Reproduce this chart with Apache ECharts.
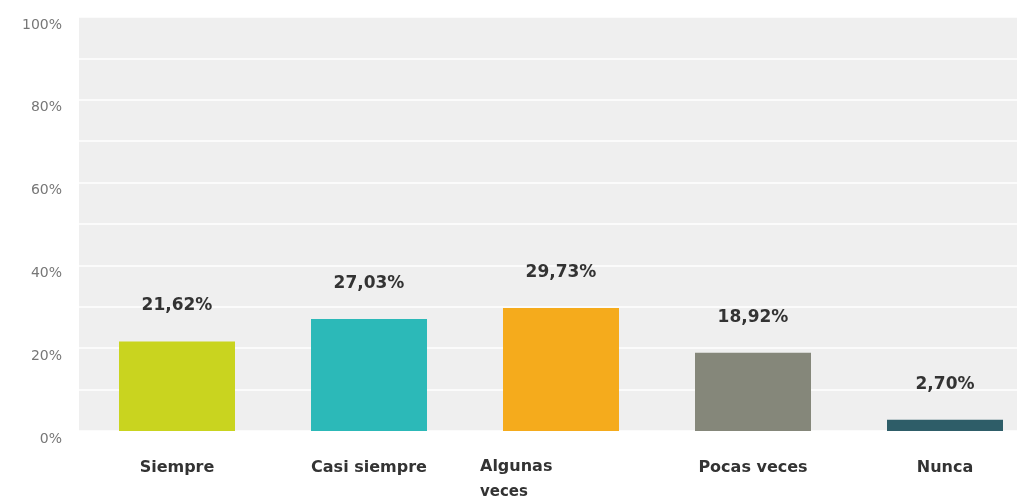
<!DOCTYPE html>
<html>
<head>
<meta charset="utf-8">
<script src="https://cdn.jsdelivr.net/npm/echarts@6/dist/echarts.min.js"></script>
<style>
    html, body { margin: 0; padding: 0; background: #fff; }
    #chart { width: 1028px; height: 496px; }
</style>
</head>
<body>
<div id="chart"></div>
<script>
    var categories = ['Siempre', 'Casi siempre', 'Algunas veces', 'Pocas veces', 'Nunca']
    var values = [21.62, 27.03, 29.73, 18.92, 2.70]
    var barColors = ['#c9d41f', '#2cb9b8', '#f5ab1c', '#85877a', '#2e5d68']
    var yTicks = [0, 20, 40, 60, 80, 100]

    var chart = echarts.init(document.getElementById('chart'))

    chart.setOption({
        animation: false,
        textStyle: { fontFamily: 'DejaVu Sans' },
        grid: [
            // background + y axis
            { left: 79, right: 11, top: 17, bottom: 65, show: true, backgroundColor: '#efefef', borderWidth: 0, outerBoundsMode: 'none' },
            // bars (a bit wider than the grey area, like the original)
            { left: 81, width: 960, top: 17, bottom: 65, outerBoundsMode: 'none' }
        ],
        xAxis: [
            { gridIndex: 0, type: 'category', data: categories, show: false },
            {
                gridIndex: 1,
                type: 'category',
                data: categories,
                axisLine: { show: false },
                axisTick: { show: false },
                axisLabel: {
                    margin: 29,
                    color: '#333',
                    fontSize: 16,
                    fontWeight: 'bold',
                    formatter: function (v) {
                        if (v === 'Algunas veces') {
                            return '{a|Algunas}\n{b|veces}'
                        }
                        return v
                    },
                    rich: {
                        a: { fontSize: 16, fontWeight: 'bold', color: '#333', align: 'left', padding: [0, 0, 0, -81], lineHeight: 14 },
                        b: { fontSize: 15, fontWeight: 'bold', color: '#333', align: 'left', padding: [0, 0, 0, -81], lineHeight: 36 }
                    }
                }
            }
        ],
        yAxis: [
            {
                gridIndex: 0,
                type: 'value',
                min: 0,
                max: 100,
                interval: 20,
                axisLine: { show: false },
                axisTick: { show: false },
                axisLabel: {
                    margin: 17,
                    color: '#777',
                    fontSize: 14,
                    verticalAlign: 'top',
                    padding: [1, 0, 0, 0],
                    formatter: function (v) {
                        return yTicks.indexOf(v) >= 0 ? v + '%' : ''
                    }
                },
                splitLine: { lineStyle: { color: '#ffffff', width: 1.5 } },
                minorTick: { show: false, splitNumber: 2 },
                minorSplitLine: { show: true, lineStyle: { color: '#ffffff', width: 1.5 } }
            },
            { gridIndex: 1, type: 'value', min: 0, max: 100, show: false, splitLine: { show: false } }
        ],
        series: [
            {
                type: 'bar',
                xAxisIndex: 1,
                yAxisIndex: 1,
                barWidth: 116,
                data: values.map(function (v, i) {
                    return { value: v, itemStyle: { color: barColors[i] } }
                }),
                label: {
                    show: true,
                    position: 'top',
                    distance: 27,
                    color: '#333',
                    fontSize: 17,
                    fontWeight: 'bold',
                    formatter: function (p) {
                        return p.value.toFixed(2).replace('.', ',') + '%'
                    }
                }
            }
        ]
    })
</script>
</body>
</html>
